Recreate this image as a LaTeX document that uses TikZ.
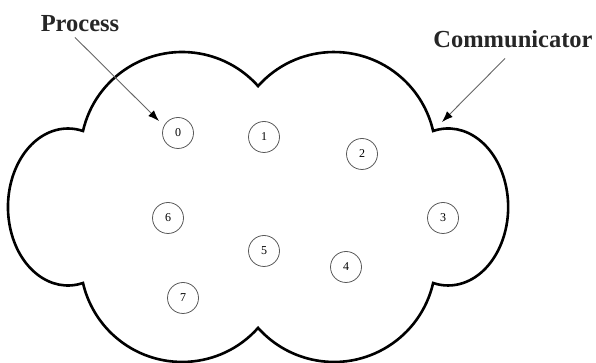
\documentclass[tikz,border=0pt]{standalone}
\usepackage{fontspec}
\setmainfont{Liberation Serif}
\usetikzlibrary{arrows.meta}
\begin{document}
\begin{tikzpicture}[x=1pt,y=1pt,
  cloudline/.style={line width=2.6pt,line join=miter,black},
  proc/.style={circle,draw=black!65,line width=0.8pt,minimum size=31pt,inner sep=0pt,font=\fontsize{12}{12}\selectfont},
  lbl/.style={font=\fontsize{24.5}{26}\selectfont\bfseries,inner sep=0pt,anchor=base,text=black!85},
  pointer/.style={draw=black!60,line width=0.9pt,-{Latex[length=11pt,width=8pt,black]}}
]
\useasboundingbox (0,0) rectangle (596,363);
% cloud outline
\draw[cloudline] (83,232)
  arc[start angle=167.09,end angle=41.69,radius=101.7]
  arc[start angle=138.31,end angle=12.91,radius=101.7]
  arc[start angle=104.5,end angle=-104.5,x radius=60,y radius=78.5]
  arc[start angle=-12.91,end angle=-138.31,radius=101.7]
  arc[start angle=-41.69,end angle=-167.09,radius=101.7]
  arc[start angle=-75.5,end angle=-284.5,x radius=60,y radius=78.5]
  -- cycle;
% processes
\node[proc] (p0) at (178,230) {0};
\node[proc] (p1) at (264,226) {1};
\node[proc] (p2) at (362,209) {2};
\node[proc] (p3) at (443,145) {3};
\node[proc] (p4) at (346,96) {4};
\node[proc] (p5) at (264,112) {5};
\node[proc] (p6) at (168,145) {6};
\node[proc] (p7) at (183,65) {7};
% labels
\node[lbl] (proc) at (80,331) {Process};
\node[lbl] (comm) at (513,315) {Communicator};
\coordinate (ptip) at (159,242);
\coordinate (ctip) at (442,241);
\draw[pointer] ([xshift=-5pt,yshift=-5pt]proc.south) -- (ptip);
\draw[pointer] ([xshift=-8pt,yshift=-10pt]comm.south) -- (ctip);
\end{tikzpicture}
\end{document}
